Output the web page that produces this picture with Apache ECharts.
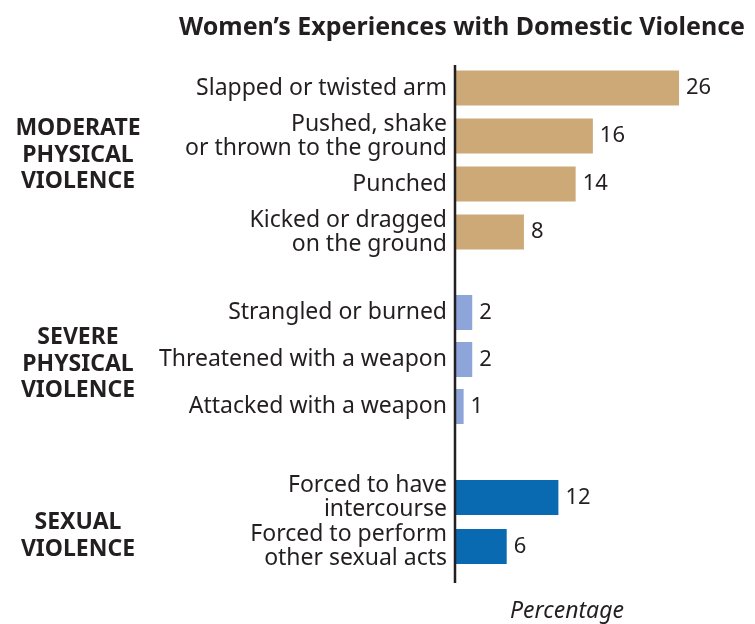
<!DOCTYPE html>
<html>
<head>
<meta charset="utf-8">
<script src="https://cdn.jsdelivr.net/npm/echarts@6/dist/echarts.min.js"></script>
<style>
  html, body { margin: 0; padding: 0; background: #fff; }
  #chart { width: 755px; height: 624px; }
</style>
</head>
<body>
<div id="chart"></div>
<script>
// data
const moderateLabels = ['Slapped or twisted arm', 'Pushed, shake\nor thrown to the ground', 'Punched', 'Kicked or dragged\non the ground'];
const moderateValues = [26, 16, 14, 8];
const severeLabels = ['Strangled or burned', 'Threatened with a weapon', 'Attacked with a weapon'];
const severeValues = [2, 2, 1];
const sexualLabels = ['Forced to have\nintercourse', 'Forced to perform\nother sexual acts'];
const sexualValues = [12, 6];
const groupNames = ['MODERATE\nPHYSICAL\nVIOLENCE', 'SEVERE\nPHYSICAL\nVIOLENCE', 'SEXUAL\nVIOLENCE'];
const groupColors = ['#CDA978', '#8DA5D8', '#0A6AB1'];

const FONT = '"Noto Sans", sans-serif';
const groups = [
    { labels: moderateLabels, values: moderateValues, top: 64, height: 192 },
    { labels: severeLabels, values: severeValues, top: 289, height: 141 },
    { labels: sexualLabels, values: sexualValues, top: 473, height: 98 }
];

const dom = document.getElementById('chart');
const myChart = echarts.init(dom);

const grid = [], xAxis = [], yAxis = [], series = [];
groups.forEach(function (g, i) {
    grid.push({ left: 455, right: 41.5, top: g.top, height: g.height });
    xAxis.push({ type: 'value', gridIndex: i, min: 0, max: 30, show: false });
    yAxis.push({
        type: 'category',
        gridIndex: i,
        data: g.labels,
        inverse: true,
        axisLine: { show: false },
        axisTick: { show: false },
        axisLabel: {
            color: '#231F20',
            fontSize: 23,
            fontFamily: FONT,
            lineHeight: 24,
            margin: 8,
            align: 'right'
        }
    });
    series.push({
        type: 'bar',
        xAxisIndex: i,
        yAxisIndex: i,
        data: g.values,
        barWidth: 35,
        itemStyle: { color: groupColors[i] },
        label: {
            show: true,
            position: 'right',
            distance: 7,
            color: '#231F20',
            fontSize: 22,
            fontFamily: FONT
        },
        silent: true
    });
});

const groupCenters = [155, 364, 536];
const groupGraphics = groupNames.map(function (name, i) {
    return {
        type: 'text',
        x: 78,
        y: groupCenters[i],
        style: {
            text: name,
            fill: '#231F20',
            font: 'bold 23px ' + FONT,
            lineHeight: 26.5,
            align: 'center',
            verticalAlign: 'middle'
        }
    };
});

const option = {
    animation: false,
    title: [{
        text: 'Women\u2019s Experiences with Domestic Violence',
        left: 457,
        textAlign: 'center',
        top: 10,
        textStyle: { fontSize: 25, fontWeight: 'bold', color: '#231F20', fontFamily: FONT }
    }, {
        text: 'Percentage',
        left: 562,
        textAlign: 'center',
        top: 595,
        textStyle: { fontSize: 23, fontWeight: 'normal', fontStyle: 'italic', color: '#231F20', fontFamily: FONT }
    }],
    grid: grid,
    xAxis: xAxis,
    yAxis: yAxis,
    series: series,
    graphic: [{
        type: 'line',
        shape: { x1: 455, y1: 65, x2: 455, y2: 583 },
        style: { stroke: '#231F20', lineWidth: 2.5 },
        z: 10
    }].concat(groupGraphics)
};

myChart.setOption(option);
window.addEventListener('resize', function () { myChart.resize(); });
</script>
</body>
</html>
